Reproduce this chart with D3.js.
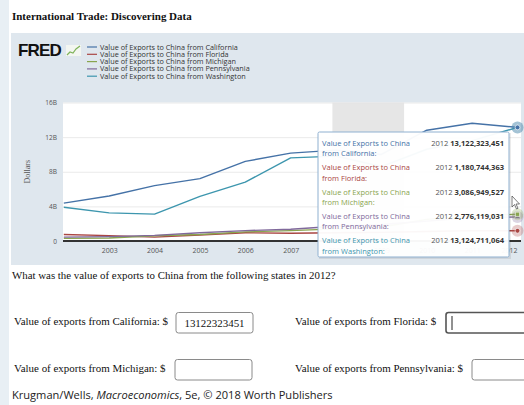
<!DOCTYPE html>
<html>
<head>
<meta charset="utf-8">
<script src="https://cdn.jsdelivr.net/npm/d3@7"></script>
<style>
  html, body { margin: 0; padding: 0; background: #e8eff4; }
  svg { display: block; }
</style>
</head>
<body>
<div id="chart"></div>
<script>
// data (billions of dollars)
const years = [2002, 2003, 2004, 2005, 2006, 2007, 2008, 2009, 2010, 2011, 2012];
const california = [4.38, 5.2, 6.4, 7.2, 9.2, 10.15, 10.5, 10.0, 12.8, 13.6, 13.122];
const florida = [0.75, 0.62, 0.45, 0.7, 0.95, 0.9, 0.95, 1.0, 1.1, 1.2, 1.181];
const michigan = [0.3, 0.35, 0.6, 0.75, 1.05, 1.2, 1.4, 1.6, 2.5, 2.9, 3.087];
const pennsylvania = [0.45, 0.5, 0.65, 0.95, 1.2, 1.35, 1.7, 1.9, 2.3, 2.7, 2.776];
const washington = [3.9, 3.25, 3.1, 5.15, 6.8, 9.6, 9.8, 8.6, 10.6, 11.6, 13.125];

const seriesNames = ["California", "Florida", "Michigan", "Pennsylvania", "Washington"];
const seriesColors = ["#4572a7", "#aa4643", "#89a54e", "#80699b", "#3d96ae"];
const seriesValues = [california, florida, michigan, pennsylvania, washington];
const tooltipValues = ["13,122,323,451", "1,180,744,363", "3,086,949,527", "2,776,119,031", "13,124,711,064"];
const markerShapes = [d3.symbolCircle, d3.symbolCircle, d3.symbolSquare, d3.symbolTriangle, d3.symbolTriangle2];

const yTicks = [0, 4, 8, 12, 16];
const xTicks = [2003, 2004, 2005, 2006, 2007, 2008, 2009, 2010, 2011, 2012];
const recession = [2007.92, 2009.5];

const questionRows = [
    {label: "Value of exports from California: $", answer: "13122323451"},
    {label: "Value of exports from Florida: $", answer: ""},
    {label: "Value of exports from Michigan: $", answer: ""},
    {label: "Value of exports from Pennsylvania: $", answer: ""}
];

const width = 524;
const height = 405;
const sans = "'Open Sans', sans-serif";
const serif = "'Liberation Serif', 'Times New Roman', serif";

// scale a text's font so it spans the width measured on the reference
const fitWidth = (sel, target) => {
    const w = sel.node().getComputedTextLength();
    const fs = +sel.attr("font-size") * target / w;
    sel.attr("font-size", fs);
    return fs;
};

const svg = d3.select("#chart")
    .append("svg")
    .attr("width", width)
    .attr("height", height);

// page background
svg.append("rect").attr("x", 0).attr("y", 0).attr("width", width).attr("height", height).attr("fill", "#e8eff4");
svg.append("rect").attr("x", 9).attr("y", 0).attr("width", width - 9).attr("height", height).attr("fill", "#ffffff");

const title = svg.append("text")
    .attr("x", 12).attr("y", 20)
    .attr("font-family", serif).attr("font-weight", "bold").attr("font-size", 11)
    .attr("fill", "#111")
    .text("International Trade: Discovering Data");
fitWidth(title, 180);

// chart panel
svg.append("rect").attr("x", 11).attr("y", 33).attr("width", width - 11).attr("height", 232).attr("fill", "#dfe7ee");

// FRED logo
svg.append("text")
    .attr("x", 18).attr("y", 56)
    .attr("font-family", "'Liberation Sans', Arial, sans-serif").attr("font-weight", "bold")
    .attr("font-size", 17).attr("letter-spacing", -0.8).attr("fill", "#111")
    .text("FRED");
svg.append("rect").attr("x", 66).attr("y", 45).attr("width", 15).attr("height", 11).attr("fill", "#f3f6f1");
svg.append("path")
    .attr("d", "M67,55 L70,52 L73,53 L76,49 L80,46")
    .attr("fill", "none").attr("stroke", "#7fb35a").attr("stroke-width", 1.2);

// legend
const legend = svg.append("g");
let legendSize = 7.5;
seriesNames.forEach((name, i) => {
    const y = 47 + i * 7.3;
    legend.append("line")
        .attr("x1", 87).attr("x2", 97).attr("y1", y).attr("y2", y)
        .attr("stroke", seriesColors[i]).attr("stroke-width", 1.2);
    const t = legend.append("text")
        .attr("x", 100).attr("y", y + 2.5)
        .attr("font-family", sans).attr("font-size", legendSize).attr("fill", "#333")
        .text("Value of Exports to China from " + name);
    if (i === 0) legendSize = fitWidth(t, 138);
});

// scales
const x = d3.scaleLinear().domain([2002, 2012]).range([63.8, 517.5]);
const y = d3.scaleLinear().domain([0, 16]).range([241, 102.5]);

const plotLeft = 63;
const plotRight = 521;

svg.append("rect")
    .attr("x", plotLeft).attr("y", y(16))
    .attr("width", plotRight - plotLeft).attr("height", y(0) - y(16))
    .attr("fill", "#ffffff");

// recession shading
svg.append("rect")
    .attr("x", x(recession[0])).attr("y", y(16))
    .attr("width", x(recession[1]) - x(recession[0])).attr("height", y(0) - y(16))
    .attr("fill", "#e6e6e6");

// gridlines
svg.append("g")
    .attr("transform", `translate(${plotLeft},0)`)
    .call(d3.axisLeft(y).tickValues(yTicks).tickSize(-(plotRight - plotLeft)).tickFormat(""))
    .call(g => g.select(".domain").remove())
    .call(g => g.selectAll("line").attr("stroke", "#e4e4e4").attr("stroke-width", 0.8));

// y labels
const yAxis = svg.append("g")
    .attr("transform", `translate(${plotLeft},0)`)
    .call(d3.axisLeft(y).tickValues(yTicks).tickSize(0).tickPadding(6)
        .tickFormat(d => d === 0 ? "0" : d + "B"))
    .call(g => g.select(".domain").remove())
    .call(g => g.selectAll("text").attr("font-family", sans).attr("font-size", 7.8).attr("fill", "#555"));
const ySize = fitWidth(yAxis.selectAll("text").filter(d => d === 16), 11.7);
yAxis.selectAll("text").attr("font-size", ySize);

svg.append("text")
    .attr("transform", `translate(30,${y(8)}) rotate(-90)`)
    .attr("text-anchor", "middle")
    .attr("font-family", serif).attr("font-size", 8).attr("fill", "#555")
    .text("Dollars");

// x axis
const xAxis = svg.append("g")
    .attr("transform", `translate(0,${y(0)})`)
    .call(d3.axisBottom(x).tickValues(xTicks).tickSize(0).tickPadding(7).tickFormat(d3.format("d")))
    .call(g => g.select(".domain").remove())
    .call(g => g.selectAll("text").attr("font-family", sans).attr("font-size", 7.8).attr("fill", "#555"));
const xSize = fitWidth(xAxis.selectAll("text").filter(d => d === 2003), 16);
xAxis.selectAll("text").attr("font-size", xSize);
// last label is pushed inside the plot edge
xAxis.selectAll(".tick").filter(d => d === 2012).select("text")
    .attr("text-anchor", "end").attr("x", -0.5);

// series lines
const line = d3.line()
    .x((d, i) => x(years[i]))
    .y(d => y(d));

const order = [1, 2, 3, 4, 0];
order.forEach(i => {
    svg.append("path")
        .datum(seriesValues[i])
        .attr("d", line)
        .attr("fill", "none")
        .attr("stroke", seriesColors[i])
        .attr("stroke-width", 1.4)
        .attr("stroke-linejoin", "round");
});

// baseline
svg.append("line")
    .attr("x1", plotLeft).attr("x2", plotRight)
    .attr("y1", y(0)).attr("y2", y(0))
    .attr("stroke", "#333").attr("stroke-width", 1.8);

// hover markers at 2012
[4, 1, 3, 2, 0].forEach(i => {
    const last = seriesValues[i][seriesValues[i].length - 1];
    const cx = x(years[years.length - 1]);
    const cy = y(last);
    svg.append("circle")
        .attr("cx", cx).attr("cy", cy).attr("r", 6)
        .attr("fill", seriesColors[i]).attr("fill-opacity", 0.28);
    svg.append("path")
        .attr("transform", `translate(${cx},${cy})`)
        .attr("d", d3.symbol().type(markerShapes[i]).size(18)())
        .attr("fill", seriesColors[i])
        .attr("stroke", "#fff").attr("stroke-width", 0.6);
});

// tooltip
const tip = svg.append("g").attr("transform", "translate(318,132)");
tip.append("rect")
    .attr("x", 1).attr("y", 1).attr("width", 192).attr("height", 126)
    .attr("fill", "#000").attr("fill-opacity", 0.08);
tip.append("rect")
    .attr("x", 0).attr("y", 0).attr("width", 191).attr("height", 125)
    .attr("rx", 1.5)
    .attr("fill", "#ffffff").attr("fill-opacity", 0.96)
    .attr("stroke", "#8fb0d0").attr("stroke-width", 1);

let tipSize = 8.2;
seriesNames.forEach((name, i) => {
    const ty = 14 + i * 24.3;
    const label = tip.append("text")
        .attr("x", 4).attr("y", ty)
        .attr("font-family", sans).attr("font-size", tipSize).attr("fill", seriesColors[i]);
    const first = label.append("tspan").attr("x", 4).text("Value of Exports to China");
    if (i === 0) {
        tipSize = tipSize * 88 / first.node().getComputedTextLength();
        label.attr("font-size", tipSize);
    }
    label.append("tspan").attr("x", 4).attr("dy", 10.3).text("from " + name + ":");
    const val = tip.append("text")
        .attr("x", 186).attr("y", ty)
        .attr("text-anchor", "end")
        .attr("font-family", sans).attr("font-size", tipSize).attr("fill", "#555");
    val.append("tspan").text("2012 ");
    val.append("tspan").attr("font-weight", "bold").attr("fill", "#333").text(tooltipValues[i]);
});

// mouse cursor
svg.append("path")
    .attr("d", "M512,196 L512,207 L514.5,204.5 L516.5,209 L518,208.3 L516,204 L519.5,204 Z")
    .attr("fill", "#fff").attr("stroke", "#444").attr("stroke-width", 0.7);

// question text
const question = svg.append("text")
    .attr("x", 12).attr("y", 279)
    .attr("font-family", serif).attr("font-size", 10.8).attr("fill", "#111")
    .text("What was the value of exports to China from the following states in 2012?");
fitWidth(question, 324);

const rowY = [325, 372];
const colX = [14, 295];
const boxX = [176, 446, 175, 472];
let rowSize = 10.8;
questionRows.forEach((row, i) => {
    const r = Math.floor(i / 2);
    const c = i % 2;
    const t = svg.append("text")
        .attr("x", colX[c]).attr("y", rowY[r])
        .attr("font-family", serif).attr("font-size", rowSize).attr("fill", "#111")
        .text(row.label);
    if (i === 0) rowSize = fitWidth(t, 154);
    const focused = i === 1;
    svg.append("rect")
        .attr("x", boxX[i]).attr("y", rowY[r] - 12.5)
        .attr("width", i % 2 === 0 ? 77 : 90).attr("height", 20.5)
        .attr("rx", 2.5)
        .attr("fill", "#fff")
        .attr("stroke", focused ? "#555" : "#8a8a8a")
        .attr("stroke-width", focused ? 1.6 : 1);
    if (row.answer) {
        svg.append("text")
            .attr("x", boxX[i] + 38.5).attr("y", rowY[r] + 1.5)
            .attr("text-anchor", "middle")
            .attr("font-family", serif).attr("font-size", rowSize).attr("fill", "#111")
            .text(row.answer);
    }
    if (focused) {
        svg.append("line")
            .attr("x1", boxX[i] + 6).attr("x2", boxX[i] + 6)
            .attr("y1", rowY[r] - 9).attr("y2", rowY[r] + 5)
            .attr("stroke", "#222").attr("stroke-width", 1);
    }
});

// footer
const footer = svg.append("text")
    .attr("x", 12).attr("y", 399)
    .attr("font-family", sans).attr("font-size", 11.1).attr("fill", "#222");
footer.append("tspan").text("Krugman/Wells, ");
footer.append("tspan").attr("font-style", "italic").text("Macroeconomics");
footer.append("tspan").text(", 5e, © 2018 Worth Publishers");
fitWidth(footer, 321);
</script>
</body>
</html>
